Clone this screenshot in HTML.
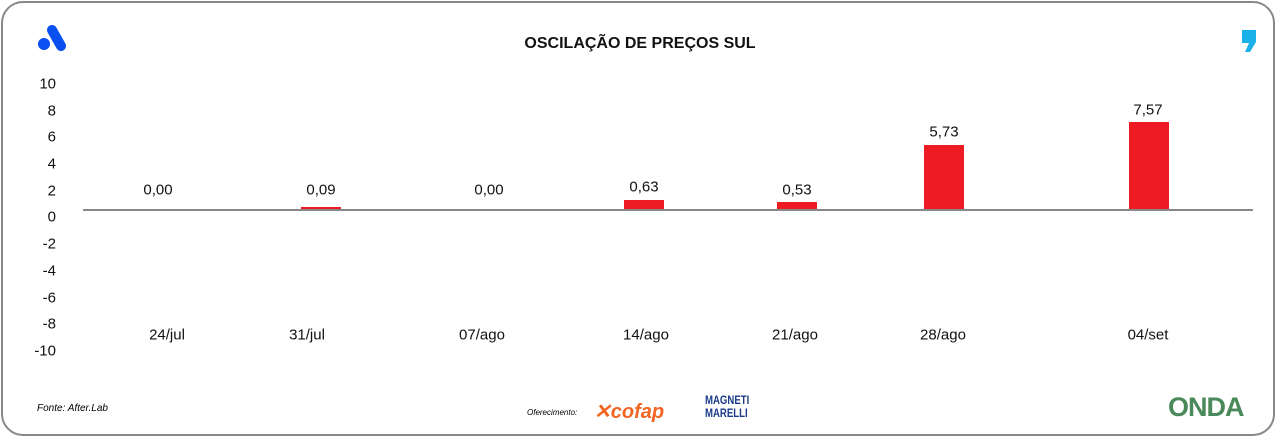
<!DOCTYPE html>
<html><head><meta charset="utf-8"><style>
body{margin:0;width:1280px;height:440px;background:#fff;font-family:"Liberation Sans",sans-serif;overflow:hidden}
.frame{position:absolute;left:1px;top:1px;width:1274px;height:435px;border:2px solid #888;border-radius:22px;box-sizing:border-box}
.t{position:absolute;font-size:15px;color:#111;transform:translate(-50%,-50%);white-space:nowrap}
.y{position:absolute;font-size:15px;color:#111;right:1224px;transform:translateY(-50%)}
.bar{position:absolute;background:#ed1c24;width:40px}
</style></head><body>
<div class="frame"></div>
<svg style="position:absolute;left:38px;top:24px" width="30" height="30"><circle cx="6" cy="20" r="6" fill="#0a4ff0"/><line x1="14" y1="6" x2="23" y2="22" stroke="#0a4ff0" stroke-width="10" stroke-linecap="round"/></svg>
<svg style="position:absolute;left:1240px;top:28px" width="20" height="26"><path d="M2 2h14v12l-6 10h-5l4-9H2z" fill="#1ab0e8"/></svg>
<div class="t" style="left:640px;top:44px;font-weight:bold;font-size:16px">OSCILAÇÃO DE PREÇOS SUL</div>
<div class="y" style="top:84px">10</div><div class="y" style="top:111px">8</div><div class="y" style="top:137px">6</div><div class="y" style="top:164px">4</div><div class="y" style="top:191px">2</div><div class="y" style="top:217px">0</div><div class="y" style="top:244px">-2</div><div class="y" style="top:271px">-4</div><div class="y" style="top:298px">-6</div><div class="y" style="top:324px">-8</div><div class="y" style="top:351px">-10</div>
<div style="position:absolute;left:83px;top:209px;width:1170px;height:2px;background:#888"></div>
<div class="bar" style="left:301px;top:207px;height:2px"></div>
<div class="bar" style="left:624px;top:200px;height:9px"></div>
<div class="bar" style="left:777px;top:202px;height:7px"></div>
<div class="bar" style="left:924px;top:145px;height:64px"></div>
<div class="bar" style="left:1129px;top:122px;height:87px"></div>
<div class="t" style="left:158px;top:190px">0,00</div>
<div class="t" style="left:321px;top:190px">0,09</div>
<div class="t" style="left:489px;top:190px">0,00</div>
<div class="t" style="left:644px;top:187px">0,63</div>
<div class="t" style="left:797px;top:190px">0,53</div>
<div class="t" style="left:944px;top:132px">5,73</div>
<div class="t" style="left:1148px;top:110px">7,57</div>
<div class="t" style="left:167px;top:335px">24/jul</div>
<div class="t" style="left:307px;top:335px">31/jul</div>
<div class="t" style="left:482px;top:335px">07/ago</div>
<div class="t" style="left:646px;top:335px">14/ago</div>
<div class="t" style="left:795px;top:335px">21/ago</div>
<div class="t" style="left:943px;top:335px">28/ago</div>
<div class="t" style="left:1148px;top:335px">04/set</div>
<div style="position:absolute;left:37px;top:403px;font-size:10px;font-style:italic">Fonte: After.Lab</div>
<div style="position:absolute;left:527px;top:408px;font-size:8px;font-style:italic">Oferecimento:</div>
<div style="position:absolute;left:594px;top:399px;font-size:20px;font-weight:bold;font-style:italic;color:#f26522">✕cofap</div>
<div style="position:absolute;left:705px;top:394px;font-size:12px;font-weight:bold;color:#1b3a8a;line-height:13px;transform:scaleX(.8);transform-origin:left">MAGNETI<br>MARELLI</div>
<div style="position:absolute;left:1168px;top:392px;font-size:27px;font-weight:bold;color:#4a8a5a;letter-spacing:-1px">ONDA</div>
</body></html>
